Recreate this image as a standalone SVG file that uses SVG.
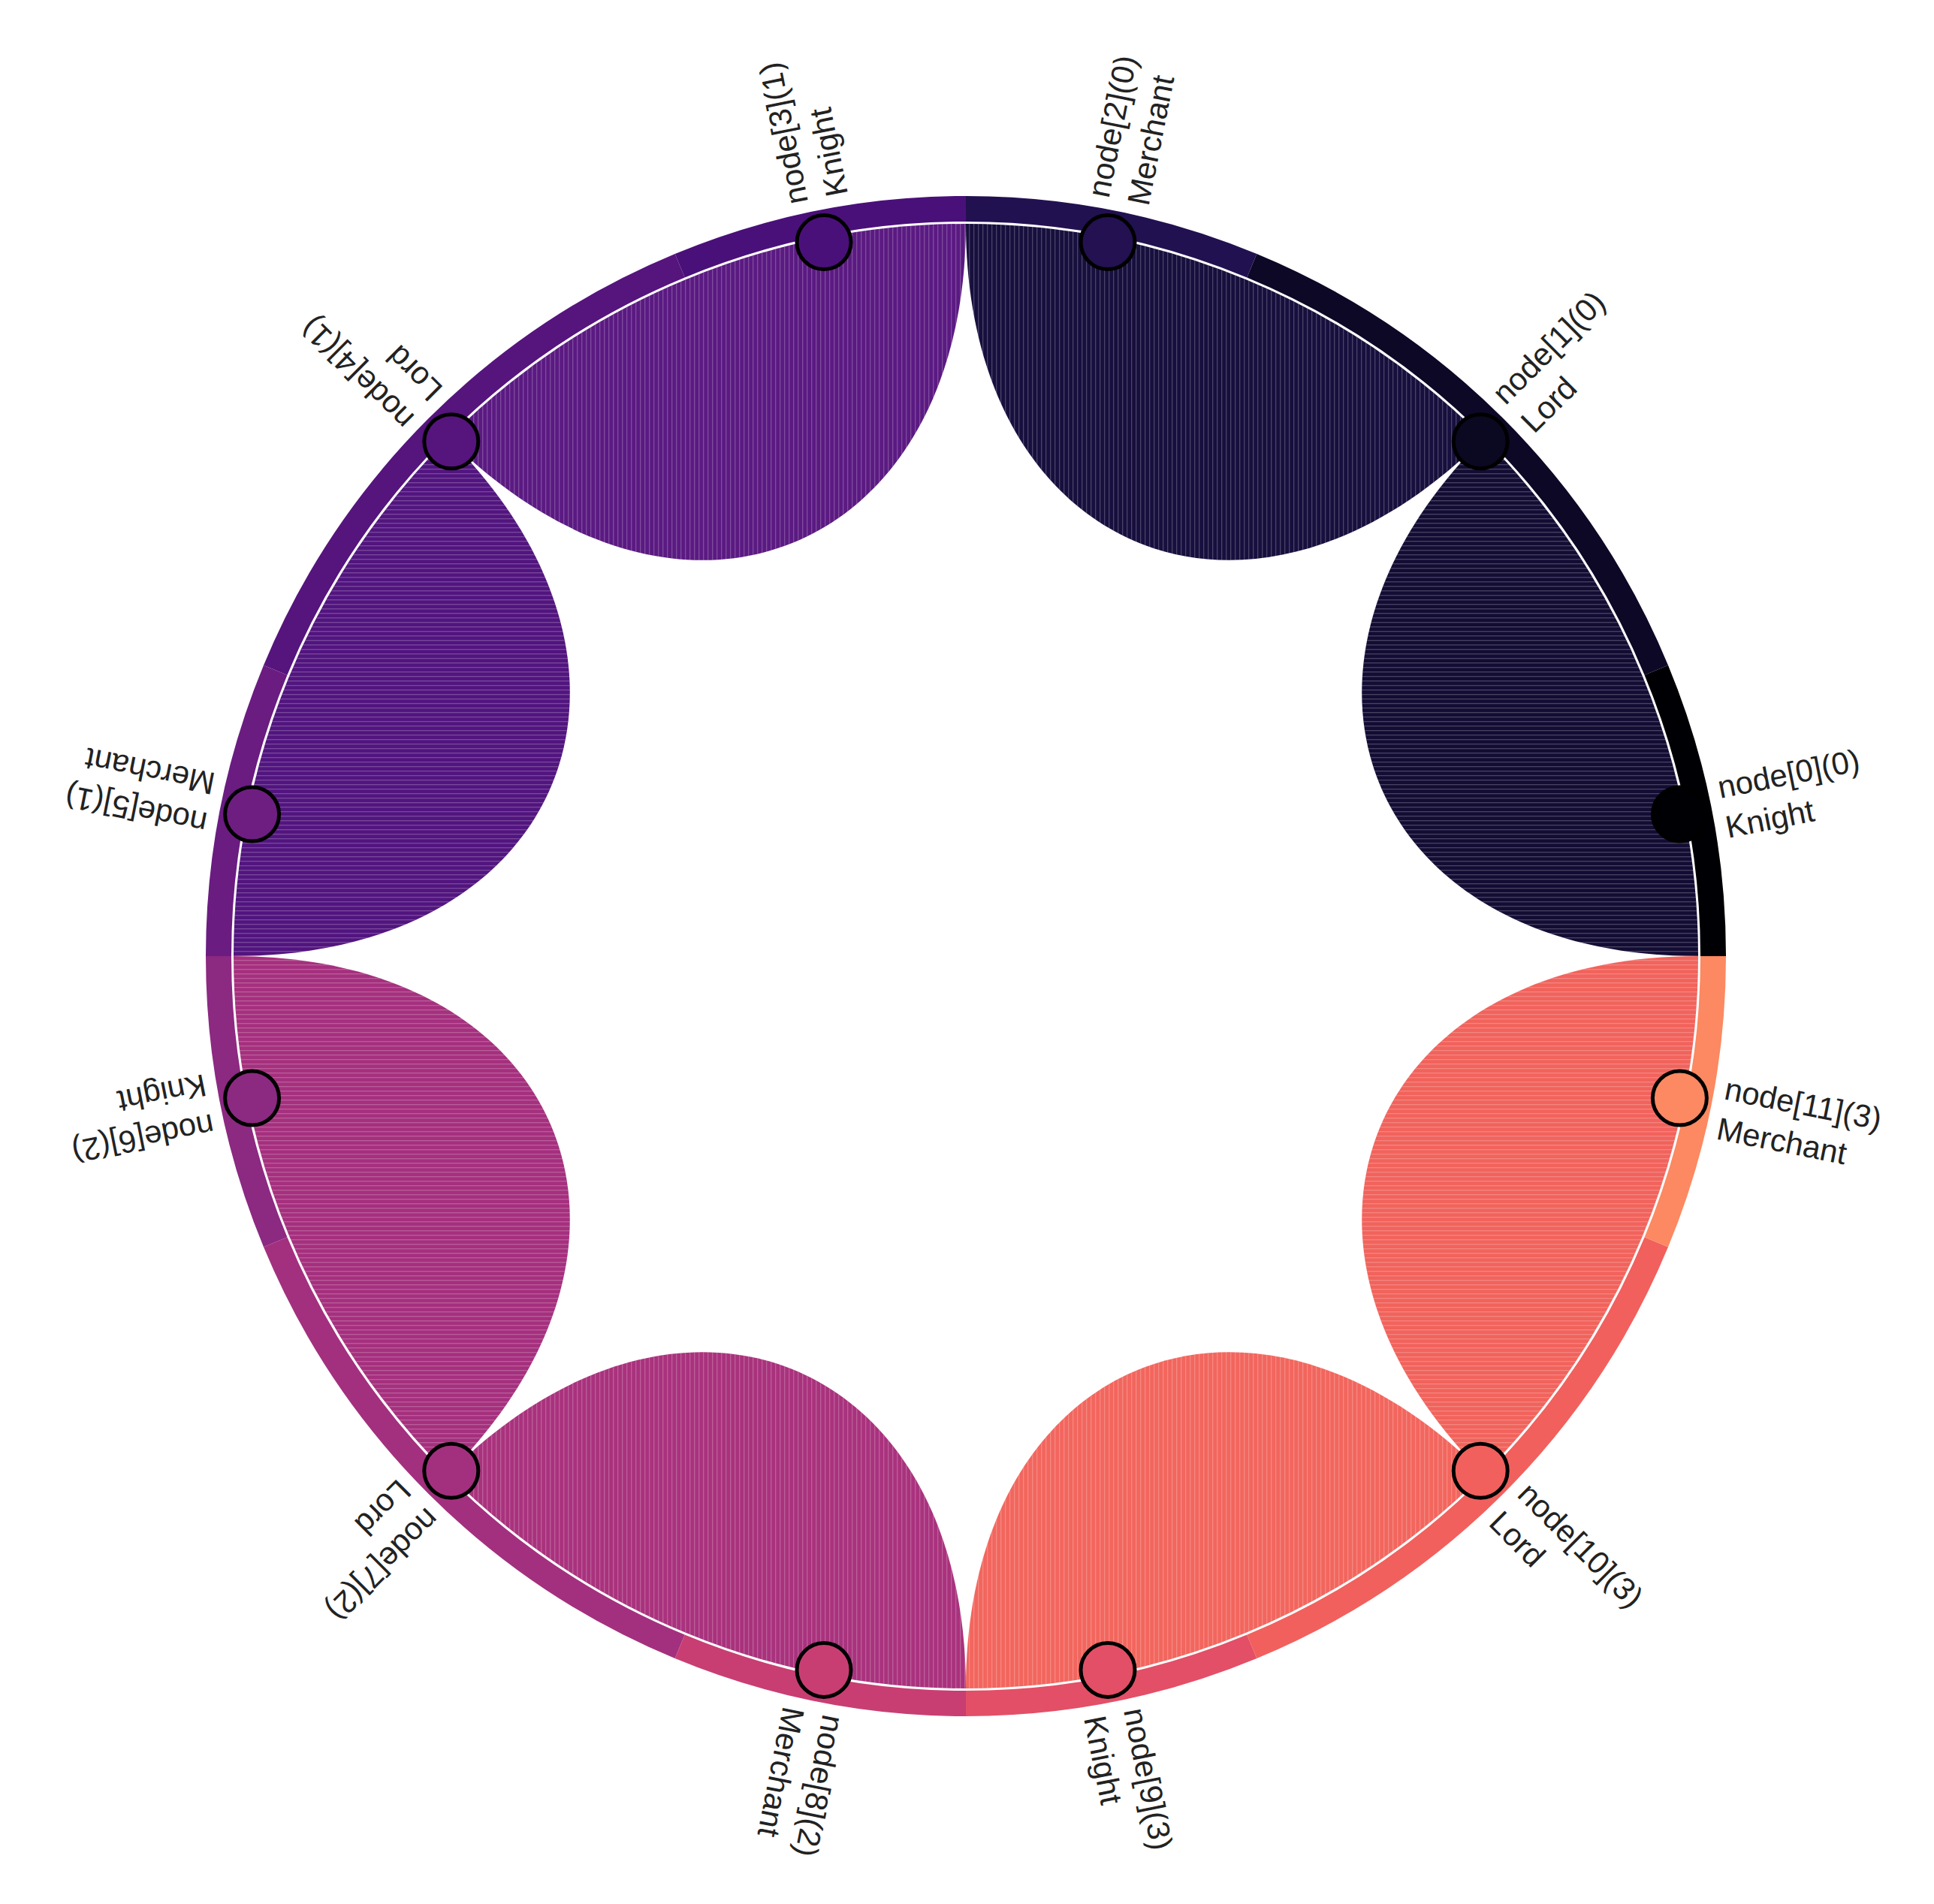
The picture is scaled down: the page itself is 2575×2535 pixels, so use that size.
<svg xmlns="http://www.w3.org/2000/svg" width="2575" height="2535" viewBox="0 0 2575 2535">
<style>
.lbl{font-family:"Liberation Sans",Arial,sans-serif;font-size:42px;fill:#222}
.node{stroke:#000;stroke-width:5}
.seg{fill:none;stroke-width:34}
</style>
<defs>
<pattern id="hv" patternUnits="userSpaceOnUse" width="6" height="6"><rect x="0" y="0" width="1.3" height="6" fill="#fff" fill-opacity="0.22"/></pattern>
<pattern id="hh" patternUnits="userSpaceOnUse" width="6" height="6"><rect x="0" y="0" width="6" height="1.3" fill="#fff" fill-opacity="0.22"/></pattern>
</defs>
<rect width="2575" height="2535" fill="#fff"/>
<g id="connectors">
<path d="M2261,1273 A975,975 0 0 0 1975.4,583.6 C1665,894 1822,1273 2261,1273 Z" fill="#130d34"/>
<path d="M1975.4,583.6 A975,975 0 0 0 1286,298 C1286,737 1665,894 1975.4,583.6 Z" fill="#170f3d"/>
<path d="M1286,298 A975,975 0 0 0 596.6,583.6 C907,894 1286,737 1286,298 Z" fill="#5b1a82"/>
<path d="M596.6,583.6 A975,975 0 0 0 311,1273 C750,1273 907,894 596.6,583.6 Z" fill="#52157f"/>
<path d="M311,1273 A975,975 0 0 0 596.6,1962.4 C907,1652 750,1273 311,1273 Z" fill="#a5307e"/>
<path d="M596.6,1962.4 A975,975 0 0 0 1286,2248 C1286,1809 907,1652 596.6,1962.4 Z" fill="#a9327d"/>
<path d="M1286,2248 A975,975 0 0 0 1975.4,1962.4 C1665,1652 1286,1809 1286,2248 Z" fill="#f2665e"/>
<path d="M1975.4,1962.4 A975,975 0 0 0 2261,1273 C1822,1273 1665,1652 1975.4,1962.4 Z" fill="#f1635c"/>
<path d="M2261,1273 A975,975 0 0 0 1975.4,583.6 C1665,894 1822,1273 2261,1273 Z M596.6,583.6 A975,975 0 0 0 311,1273 C750,1273 907,894 596.6,583.6 Z M311,1273 A975,975 0 0 0 596.6,1962.4 C907,1652 750,1273 311,1273 Z M1975.4,1962.4 A975,975 0 0 0 2261,1273 C1822,1273 1665,1652 1975.4,1962.4 Z" fill="url(#hh)"/>
<path d="M1975.4,583.6 A975,975 0 0 0 1286,298 C1286,737 1665,894 1975.4,583.6 Z M1286,298 A975,975 0 0 0 596.6,583.6 C907,894 1286,737 1286,298 Z M596.6,1962.4 A975,975 0 0 0 1286,2248 C1286,1809 907,1652 596.6,1962.4 Z M1286,2248 A975,975 0 0 0 1975.4,1962.4 C1665,1652 1286,1809 1286,2248 Z" fill="url(#hv)"/>
</g>
<g id="ring">
<path class="seg" stroke="#000004" d="M2281,1273 A995,995 0 0 0 2205.3,892.2"/>
<path class="seg" stroke="#0c0826" d="M2205.3,892.2 A995,995 0 0 0 1666.8,353.7"/>
<path class="seg" stroke="#221150" d="M1666.8,353.7 A995,995 0 0 0 1286,278"/>
<path class="seg" stroke="#4a1079" d="M1286,278 A995,995 0 0 0 905.2,353.7"/>
<path class="seg" stroke="#56147d" d="M905.2,353.7 A995,995 0 0 0 366.7,892.2"/>
<path class="seg" stroke="#6a1c81" d="M366.7,892.2 A995,995 0 0 0 291,1273"/>
<path class="seg" stroke="#8c2981" d="M291,1273 A995,995 0 0 0 366.7,1653.8"/>
<path class="seg" stroke="#a3307e" d="M366.7,1653.8 A995,995 0 0 0 905.2,2192.3"/>
<path class="seg" stroke="#c83e73" d="M905.2,2192.3 A995,995 0 0 0 1286,2268"/>
<path class="seg" stroke="#e34f66" d="M1286,2268 A995,995 0 0 0 1666.8,2192.3"/>
<path class="seg" stroke="#f1605d" d="M1666.8,2192.3 A995,995 0 0 0 2205.3,1653.8"/>
<path class="seg" stroke="#fc8961" d="M2205.3,1653.8 A995,995 0 0 0 2281,1273"/>
</g>
<g id="node0"><circle class="node" cx="2236.4" cy="1084" r="36" fill="#000004"/><g transform="rotate(-11.25 1286 1273)"><text class="lbl" x="2312" y="1263">node[0](0)</text><text class="lbl" x="2312" y="1317">Knight</text></g></g>
<g id="node1"><circle class="node" cx="1971.2" cy="587.8" r="36" fill="#0b0821"/><g transform="rotate(-45 1286 1273)"><text class="lbl" x="2312" y="1263">node[1](0)</text><text class="lbl" x="2312" y="1317">Lord</text></g></g>
<g id="node2"><circle class="node" cx="1475" cy="322.6" r="36" fill="#231151"/><g transform="rotate(-78.75 1286 1273)"><text class="lbl" x="2312" y="1263">node[2](0)</text><text class="lbl" x="2312" y="1317">Merchant</text></g></g>
<g id="node3"><circle class="node" cx="1097" cy="322.6" r="36" fill="#4a1079"/><g transform="rotate(-101.25 1286 1273)"><text class="lbl" x="2312" y="1263">node[3](1)</text><text class="lbl" x="2312" y="1317">Knight</text></g></g>
<g id="node4"><circle class="node" cx="600.8" cy="587.8" r="36" fill="#56147d"/><g transform="rotate(-135 1286 1273)"><text class="lbl" x="2312" y="1263">node[4](1)</text><text class="lbl" x="2312" y="1317">Lord</text></g></g>
<g id="node5"><circle class="node" cx="335.6" cy="1084" r="36" fill="#6e1e81"/><g transform="rotate(-168.75 1286 1273)"><text class="lbl" x="2312" y="1263">node[5](1)</text><text class="lbl" x="2312" y="1317">Merchant</text></g></g>
<g id="node6"><circle class="node" cx="335.6" cy="1462" r="36" fill="#8c2981"/><g transform="rotate(-191.25 1286 1273)"><text class="lbl" x="2312" y="1263">node[6](2)</text><text class="lbl" x="2312" y="1317">Knight</text></g></g>
<g id="node7"><circle class="node" cx="600.8" cy="1958.2" r="36" fill="#a3307e"/><g transform="rotate(-225 1286 1273)"><text class="lbl" x="2312" y="1263">node[7](2)</text><text class="lbl" x="2312" y="1317">Lord</text></g></g>
<g id="node8"><circle class="node" cx="1097" cy="2223.4" r="36" fill="#c83e73"/><g transform="rotate(-258.75 1286 1273)"><text class="lbl" x="2312" y="1263">node[8](2)</text><text class="lbl" x="2312" y="1317">Merchant</text></g></g>
<g id="node9"><circle class="node" cx="1475" cy="2223.4" r="36" fill="#e34f66"/><g transform="rotate(-281.25 1286 1273)"><text class="lbl" x="2312" y="1263">node[9](3)</text><text class="lbl" x="2312" y="1317">Knight</text></g></g>
<g id="node10"><circle class="node" cx="1971.2" cy="1958.2" r="36" fill="#f1605d"/><g transform="rotate(-315 1286 1273)"><text class="lbl" x="2312" y="1263">node[10](3)</text><text class="lbl" x="2312" y="1317">Lord</text></g></g>
<g id="node11"><circle class="node" cx="2236.4" cy="1462" r="36" fill="#fc8961"/><g transform="rotate(-348.75 1286 1273)"><text class="lbl" x="2312" y="1263">node[11](3)</text><text class="lbl" x="2312" y="1317">Merchant</text></g></g>
</svg>
